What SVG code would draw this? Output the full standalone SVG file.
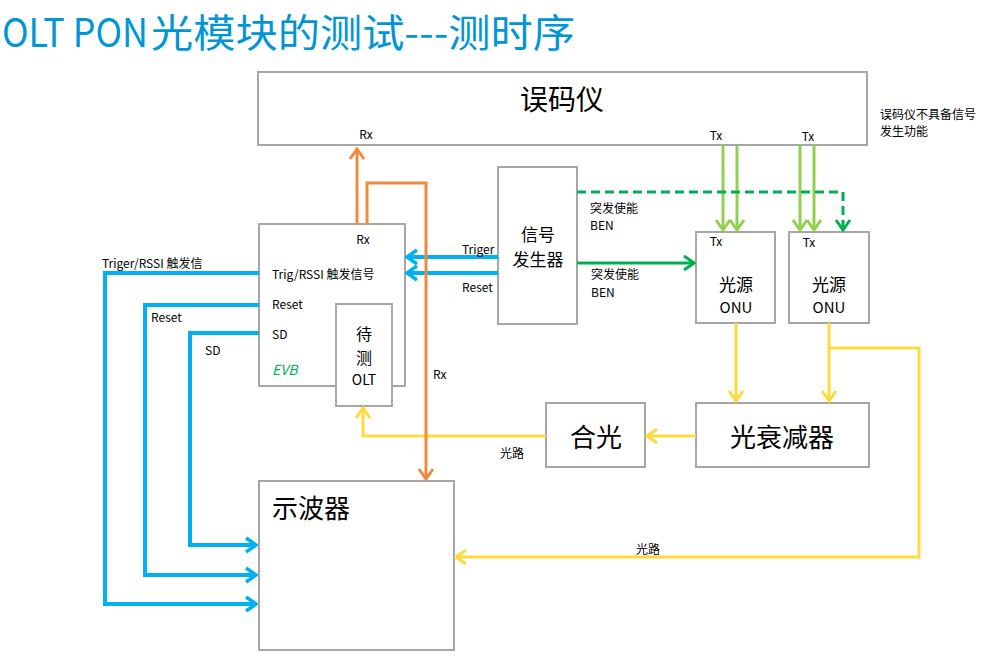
<svg xmlns="http://www.w3.org/2000/svg" width="1003" height="660" viewBox="0 0 1003 660">
<style>
text{font-family:"Noto Sans CJK SC","Noto Sans",sans-serif;fill:#000;dominant-baseline:central}
.box{fill:#fff;stroke:#a6a6a6;stroke-width:2}
.s{font-size:12px}
.l{font-size:26px}
.c{text-anchor:middle}
.ln{fill:none;stroke-linejoin:miter}
.blue{stroke:#00b0f0;stroke-width:4}
.org{stroke:#f08a3c;stroke-width:3}
.lg{stroke:#92d050;stroke-width:3}
.dg{stroke:#00b050;stroke-width:3}
.yl{stroke:#ffd93d;stroke-width:3}
</style>
<defs>
<marker id="aB" markerUnits="userSpaceOnUse" viewBox="0 0 14 18" markerWidth="14" markerHeight="18" refX="12" refY="9" orient="auto"><path d="M2,2 L12,9 L2,16" fill="none" stroke="#00b0f0" stroke-width="3.5"/></marker>
<marker id="aO" markerUnits="userSpaceOnUse" viewBox="0 0 14 18" markerWidth="14" markerHeight="18" refX="12" refY="9" orient="auto"><path d="M2,2 L12,9 L2,16" fill="none" stroke="#f08a3c" stroke-width="3"/></marker>
<marker id="aL" markerUnits="userSpaceOnUse" viewBox="0 0 14 18" markerWidth="14" markerHeight="18" refX="12" refY="9" orient="auto"><path d="M2,2 L12,9 L2,16" fill="none" stroke="#92d050" stroke-width="3"/></marker>
<marker id="aG" markerUnits="userSpaceOnUse" viewBox="0 0 14 18" markerWidth="14" markerHeight="18" refX="12" refY="9" orient="auto"><path d="M2,2 L12,9 L2,16" fill="none" stroke="#00b050" stroke-width="3"/></marker>
<marker id="aY" markerUnits="userSpaceOnUse" viewBox="0 0 14 18" markerWidth="14" markerHeight="18" refX="12" refY="9" orient="auto"><path d="M2,2 L12,9 L2,16" fill="none" stroke="#ffd93d" stroke-width="3"/></marker>
</defs>
<rect width="1003" height="660" fill="#fff"/>
<text x="2" y="30" style="font-size:39px;fill:#0096d6"><tspan x="2" textLength="146" lengthAdjust="spacingAndGlyphs">OLT PON</tspan><tspan x="151" textLength="424" lengthAdjust="spacingAndGlyphs">光模块的测试---测时序</tspan></text>

<g id="node-bert">
<rect class="box" x="258" y="72" width="609" height="73"/>
<text class="c" x="562" y="98" style="font-size:28px">误码仪</text>
<text class="s c" x="366" y="133">Rx</text>
<text class="s c" x="716" y="134">Tx</text>
<text class="s c" x="808" y="135">Tx</text>
</g>
<g id="note">
<text class="s" x="880" y="113">误码仪不具备信号</text>
<text class="s" x="880" y="130">发生功能</text>
</g>
<g id="node-evb">
<rect class="box" x="259" y="224" width="146" height="162"/>
<text class="s c" x="363" y="238">Rx</text>
<text class="s" x="272" y="273">Trig/RSSI 触发信号</text>
<text class="s" x="272" y="303">Reset</text>
<text class="s" x="272" y="333">SD</text>
<text x="272" y="369" style="font-size:14px;font-style:italic;fill:#00b050">EVB</text>
</g>
<g id="node-olt">
<rect class="box" x="336" y="304" width="56" height="102"/>
<text class="c" x="364" y="333" style="font-size:16px">待</text>
<text class="c" x="364" y="356.5" style="font-size:16px">测</text>
<text class="c" x="364" y="379" style="font-size:14px">OLT</text>
</g>
<g id="node-siggen">
<rect class="box" x="498" y="167" width="79" height="157"/>
<text class="c" x="538" y="233" style="font-size:17px">信号</text>
<text class="c" x="538" y="258" style="font-size:17px">发生器</text>
</g>
<g id="node-onu1">
<rect class="box" x="696" y="232" width="79" height="91"/>
<text class="s c" x="716" y="240">Tx</text>
<text class="c" x="736" y="283" style="font-size:17px">光源</text>
<text class="c" x="736" y="306" style="font-size:15px">ONU</text>
</g>
<g id="node-onu2">
<rect class="box" x="789" y="232" width="80" height="91"/>
<text class="s c" x="809" y="241">Tx</text>
<text class="c" x="829" y="283" style="font-size:17px">光源</text>
<text class="c" x="829" y="306" style="font-size:15px">ONU</text>
</g>
<g id="node-atten">
<rect class="box" x="696" y="403" width="173" height="64"/>
<text class="l c" x="782" y="435">光衰减器</text>
</g>
<g id="node-combiner">
<rect class="box" x="546" y="403" width="99" height="64"/>
<text class="l c" x="596" y="435">合光</text>
</g>
<g id="node-scope">
<rect class="box" x="259" y="481" width="195" height="169"/>
<text class="l" x="272" y="506">示波器</text>
</g>

<g id="connectors">
<path class="ln blue" d="M498,257 H407" marker-end="url(#aB)"/>
<path class="ln blue" d="M498,273 H407" marker-end="url(#aB)"/>
<path class="ln blue" d="M259,273 H105 V604 H256" marker-end="url(#aB)"/>
<path class="ln blue" d="M259,305 H145 V575 H256" marker-end="url(#aB)"/>
<path class="ln blue" d="M259,333 H190 V545 H256" marker-end="url(#aB)"/>
<path class="ln lg" d="M723,145 V230" marker-end="url(#aL)"/>
<path class="ln lg" d="M737,145 V230" marker-end="url(#aL)"/>
<path class="ln lg" d="M800,145 V230" marker-end="url(#aL)"/>
<path class="ln lg" d="M814,145 V230" marker-end="url(#aL)"/>
<path class="ln dg" d="M577,192 H843 V230" stroke-dasharray="9,5" marker-end="url(#aG)"/>
<path class="ln dg" d="M577,263 H694" marker-end="url(#aG)"/>
<path class="ln yl" d="M736,323 V401" marker-end="url(#aY)"/>
<path class="ln yl" d="M829,323 V401" marker-end="url(#aY)"/>
<path class="ln yl" d="M829,348 H919 V557 H456" marker-end="url(#aY)"/>
<path class="ln yl" d="M696,436 H647" marker-end="url(#aY)"/>
<path class="ln yl" d="M546,436 H363 V408" marker-end="url(#aY)"/>
<path class="ln org" d="M357,224 V149" marker-end="url(#aO)"/>
<path class="ln org" d="M367,224 V183 H426 V479" marker-end="url(#aO)"/>
<text class="s" x="462" y="248">Triger</text>
<text class="s" x="462" y="286">Reset</text>
<text class="s" x="102" y="262">Triger/RSSI 触发信</text>
<text class="s" x="151" y="316">Reset</text>
<text class="s" x="205" y="349">SD</text>
<text class="s" x="590" y="207">突发使能</text>
<text class="s" x="590" y="224">BEN</text>
<text class="s" x="591" y="273">突发使能</text>
<text class="s" x="591" y="291">BEN</text>
<text class="s" x="433" y="373">Rx</text>
<text class="s" x="500" y="452">光路</text>
<text class="s" x="636" y="548">光路</text>
</g>
</svg>
